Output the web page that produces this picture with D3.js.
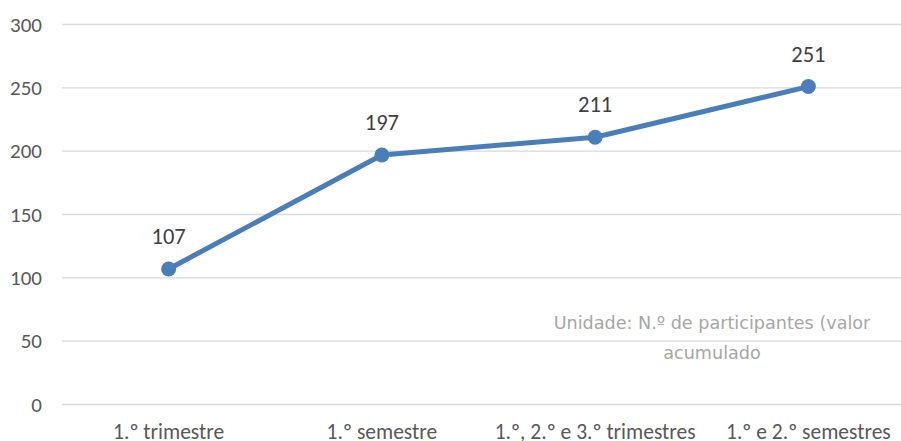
<!DOCTYPE html>
<html><head><meta charset="utf-8">
<script src="https://cdn.jsdelivr.net/npm/d3@7"></script>
<style>body{margin:0;background:#fff}svg{display:block}</style>
</head><body>
<svg id="c" width="901" height="441"></svg>
<script>
const categories = ["1.º trimestre", "1.º semestre", "1.º, 2.º e 3.º trimestres", "1.º e 2.º semestres"];
const values = [107, 197, 211, 251];
const yTicks = [0, 50, 100, 150, 200, 250, 300];
const noteLines = ["Unidade: N.º de participantes (valor", "acumulado"];

const svg = d3.select("#c");
const font = "Carlito, Calibri, 'Open Sans', sans-serif";
const x = d3.scaleBand().domain(categories).range([62, 915]);
const y = d3.scaleLinear().domain([0, 300]).range([404.5, 24.5]);

// gridlines
svg.append("g").selectAll("line").data(yTicks).join("line")
  .attr("x1", 62).attr("x2", 915)
  .attr("y1", d => y(d)).attr("y2", d => y(d))
  .attr("stroke", "#d9d9d9").attr("stroke-width", 1.3);

// y axis labels
const yAxis = d3.axisLeft(y).tickValues(yTicks).tickSize(0).tickPadding(0);
const gy = svg.append("g").attr("transform", "translate(42,0)").call(yAxis);
gy.select(".domain").remove();
gy.selectAll("text").attr("font-family", font).attr("font-size", 21).attr("fill", "#595959");

// x axis labels
const xAxis = d3.axisBottom(x).tickSize(0).tickPadding(0);
const gx = svg.append("g").attr("transform", "translate(0,0)").call(xAxis);
gx.select(".domain").remove();
gx.selectAll("text").attr("y", 439).attr("dy", null)
  .attr("font-family", font).attr("font-size", 21.5).attr("fill", "#595959");

// note
svg.append("g").selectAll("text").data(noteLines).join("text")
  .attr("x", 712).attr("y", (d, i) => 329 + i * 30)
  .attr("text-anchor", "middle")
  .attr("font-family", "'DejaVu Sans', Verdana, sans-serif").attr("font-size", 17.6)
  .attr("fill", "#a6a6a6").text(d => d);

// line
const cx = d => x(d) + x.bandwidth() / 2;
const line = d3.line().x((d, i) => cx(categories[i])).y(d => y(d));
svg.append("path").datum(values).attr("d", line)
  .attr("fill", "none").attr("stroke", "#4a7ebb").attr("stroke-width", 5)
  .attr("stroke-linejoin", "round");

svg.append("g").selectAll("circle").data(values).join("circle")
  .attr("cx", (d, i) => cx(categories[i])).attr("cy", d => y(d))
  .attr("r", 7.5).attr("fill", "#4a7ebb");

// data labels
svg.append("g").selectAll("text").data(values).join("text")
  .attr("x", (d, i) => cx(categories[i])).attr("y", d => y(d) - 25)
  .attr("text-anchor", "middle")
  .attr("font-family", font).attr("font-size", 22.5).attr("fill", "#404040")
  .text(d => d);
</script>
</body></html>
